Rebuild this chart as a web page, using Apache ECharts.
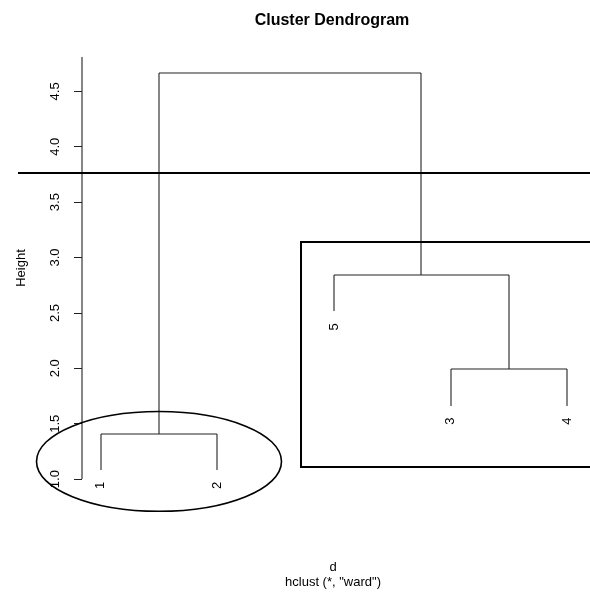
<!DOCTYPE html>
<html>
<head>
<meta charset="utf-8">
<title>Cluster Dendrogram</title>
<script src="https://cdn.jsdelivr.net/npm/echarts@6/dist/echarts.min.js"></script>
<style>
  html, body { margin: 0; padding: 0; background: #fff; }
  #chart { width: 590px; height: 593px; }
</style>
</head>
<body>
<div id="chart"></div>
<script>
// hclust result: merge steps (negative = observation, positive = earlier step)
const mergeA = [-1, -3, -5, 1];
const mergeB = [-2, -4, 2, 3];
const mergeHeight = [1.41, 1.99, 2.84, 4.67];
// leaf order along the x axis
const leafOrder = [1, 2, 5, 3, 4];
const hang = 0.1;

// y axis ticks
const yTicks = [1.0, 1.5, 2.0, 2.5, 3.0, 3.5, 4.0, 4.5];

// annotations: cut height, cluster box, ellipse around the first cluster
const cutHeight = 3.76;
const boxX = [2.72, 5.6];
const boxY = [1.11, 3.14];
const ellipseCenter = [1.5, 1.16];
const ellipseRadius = [1.05, 0.45];

const FONT = '"Liberation Sans", Arial, Helvetica, sans-serif';
const FS = 13;

// --- build dendrogram segments from the merge table ---
const hangDrop = hang * (Math.max(...mergeHeight) - Math.min(...mergeHeight));
const leafX = {};
leafOrder.forEach((obs, i) => { leafX[obs] = i + 1; });
const nodeX = [];
const segments = [];
const leaves = [];
function childInfo(ref, h) {
  if (ref < 0) {
    const x = leafX[-ref];
    const bottom = h - hangDrop;
    leaves.push([x, bottom, String(-ref)]);
    return { x: x, y: bottom };
  }
  return { x: nodeX[ref - 1], y: mergeHeight[ref - 1] };
}
for (let i = 0; i < mergeHeight.length; i++) {
  const h = mergeHeight[i];
  const a = childInfo(mergeA[i], h);
  const b = childInfo(mergeB[i], h);
  segments.push([a.x, a.y, a.x, h]);
  segments.push([a.x, h, b.x, h]);
  segments.push([b.x, h, b.x, b.y]);
  nodeX.push((a.x + b.x) / 2);
}

const snap = v => Math.round(v);
const LINE = { stroke: '#222', lineWidth: 1.1 };

const chart = echarts.init(document.getElementById('chart'), null, { renderer: 'canvas' });

chart.setOption({
  backgroundColor: '#ffffff',
  animation: false,
  grid: { left: 82, top: 57, width: 504, height: 429, containLabel: false },
  xAxis: {
    type: 'value', min: 0.84, max: 5.16, show: false
  },
  yAxis: {
    type: 'value', min: 0.938, max: 4.81,
    splitLine: { show: false },
    axisLine: { show: false },
    axisTick: {
      show: true, length: 8, customValues: yTicks,
      lineStyle: { color: '#222', width: 1 }
    },
    axisLabel: {
      show: true, customValues: yTicks, rotate: 90, margin: 20,
      fontFamily: FONT, fontSize: FS, color: '#000',
      formatter: v => v.toFixed(1)
    }
  },
  graphic: [
    { type: 'text', silent: true, x: 332, y: 21,
      style: { text: 'Cluster Dendrogram', align: 'center', verticalAlign: 'middle',
        font: 'bold 16px ' + FONT, fill: '#000' } },
    { type: 'text', silent: true, x: 21, y: 268, rotation: Math.PI / 2,
      style: { text: 'Height', align: 'center', verticalAlign: 'middle', font: FS + 'px ' + FONT, fill: '#000' } },
    { type: 'text', silent: true, x: 333, y: 567,
      style: { text: 'd', align: 'center', verticalAlign: 'middle', font: FS + 'px ' + FONT, fill: '#000' } },
    { type: 'text', silent: true, x: 333, y: 582,
      style: { text: 'hclust (*, "ward")', align: 'center', verticalAlign: 'middle', font: FS + 'px ' + FONT, fill: '#000' } }
  ],
  series: [
    {
      // y axis spine, from the first tick to the top of the plot
      type: 'custom', silent: true, clip: false,
      data: [[0.84, yTicks[0], 4.81]],
      renderItem: (params, api) => {
        const p1 = api.coord([api.value(0), api.value(1)]);
        const p2 = api.coord([api.value(0), api.value(2)]);
        const x = snap(p1[0]);
        return { type: 'line', shape: { x1: x, y1: snap(p1[1]), x2: x, y2: snap(p2[1]) },
          style: LINE };
      }
    },
    {
      // dendrogram branches
      type: 'custom', silent: true, clip: false,
      data: segments,
      renderItem: (params, api) => {
        const p1 = api.coord([api.value(0), api.value(1)]);
        const p2 = api.coord([api.value(2), api.value(3)]);
        return { type: 'line',
          shape: { x1: snap(p1[0]), y1: snap(p1[1]), x2: snap(p2[0]), y2: snap(p2[1]) },
          style: LINE };
      }
    },
    {
      // leaf labels
      type: 'custom', silent: true, clip: false,
      data: leaves,
      renderItem: (params, api) => {
        const p = api.coord([api.value(0), api.value(1)]);
        return { type: 'text', x: p[0], y: p[1] + 12, rotation: Math.PI / 2,
          style: { text: leaves[params.dataIndex][2], align: 'right', verticalAlign: 'middle',
            font: FS + 'px ' + FONT, fill: '#000' } };
      }
    },
    {
      // cut line across the whole figure
      type: 'custom', silent: true, clip: false,
      data: [[cutHeight]],
      renderItem: (params, api) => {
        const p = api.coord([0.84, api.value(0)]);
        const y = Math.round(p[1]);
        return { type: 'line', shape: { x1: 18, y1: y, x2: api.getWidth(), y2: y },
          style: { stroke: '#000', lineWidth: 2 } };
      }
    },
    {
      // box around the second cluster
      type: 'custom', silent: true, clip: false,
      data: [[boxX[0], boxY[0], boxX[1], boxY[1]]],
      renderItem: (params, api) => {
        const p1 = api.coord([api.value(0), api.value(3)]);
        const p2 = api.coord([api.value(2), api.value(1)]);
        return { type: 'rect',
          shape: { x: Math.round(p1[0]), y: Math.round(p1[1]), width: Math.round(p2[0] - p1[0]), height: Math.round(p2[1] - p1[1]) },
          style: { stroke: '#000', lineWidth: 2, fill: 'none' } };
      }
    },
    {
      // ellipse around the first cluster
      type: 'custom', silent: true, clip: false,
      data: [[ellipseCenter[0], ellipseCenter[1], ellipseRadius[0], ellipseRadius[1]]],
      renderItem: (params, api) => {
        const c = api.coord([api.value(0), api.value(1)]);
        const e = api.coord([api.value(0) + api.value(2), api.value(1) + api.value(3)]);
        return { type: 'ellipse',
          shape: { cx: c[0], cy: c[1], rx: Math.abs(e[0] - c[0]), ry: Math.abs(c[1] - e[1]) },
          style: { stroke: '#000', lineWidth: 1.6, fill: 'none' } };
      }
    }
  ]
});
</script>
</body>
</html>
